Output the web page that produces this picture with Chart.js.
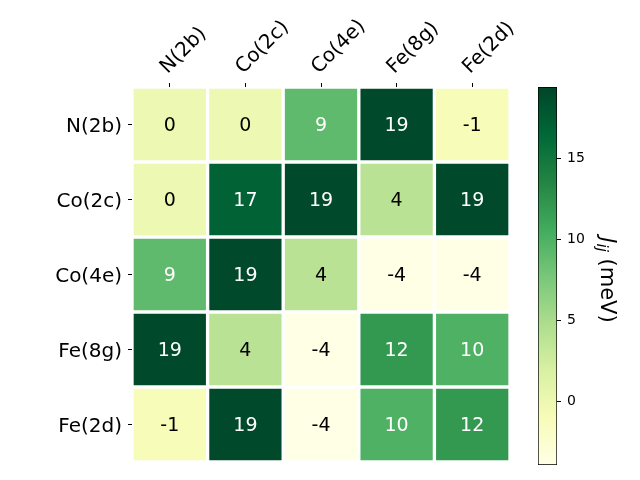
<!DOCTYPE html>
<html>
<head>
<meta charset="utf-8">
<script src="https://cdn.jsdelivr.net/npm/chart.js@4/dist/chart.umd.min.js"></script>
<style>
  html, body { margin: 0; padding: 0; background: #fff; }
  #wrap { position: relative; width: 640px; height: 480px; }
  canvas { position: absolute; left: 0; top: 0; }
</style>
</head>
<body>
<div id="wrap">
  <canvas id="heat" width="640" height="480"></canvas>
  <canvas id="cbar" width="640" height="480"></canvas>
</div>
<script>
// sites on both axes
const siteLabels = ['N(2b)', 'Co(2c)', 'Co(4e)', 'Fe(8g)', 'Fe(2d)'];

// J_ij values (meV), one array per row
const rowN2b  = [0, 0, 9, 19, -1];
const rowCo2c = [0, 17, 19, 4, 19];
const rowCo4e = [9, 19, 4, -4, -4];
const rowFe8g = [19, 4, -4, 12, 10];
const rowFe2d = [-1, 19, -4, 10, 12];
const jRows = [rowN2b, rowCo2c, rowCo4e, rowFe8g, rowFe2d];

// colour bar range and ticks
const vMin = -3.9;
const vMax = 19.4;
const cbarTicks = [0, 5, 10, 15];

// YlGn colormap stops
const ylgn = ['#ffffe5', '#f7fcb9', '#d9f0a3', '#addd8e', '#78c679', '#41ab5d', '#238443', '#006837', '#004529'];

function hexToRgb(h) {
  return [parseInt(h.slice(1, 3), 16), parseInt(h.slice(3, 5), 16), parseInt(h.slice(5, 7), 16)];
}
function cmap(v) {
  let t = (v - vMin) / (vMax - vMin);
  t = Math.max(0, Math.min(1, t));
  const pos = t * (ylgn.length - 1);
  const i = Math.min(Math.floor(pos), ylgn.length - 2);
  const f = pos - i;
  const a = hexToRgb(ylgn[i]), b = hexToRgb(ylgn[i + 1]);
  const c = a.map((x, k) => Math.round(x + (b[k] - x) * f));
  return 'rgb(' + c.join(',') + ')';
}

Chart.defaults.color = '#000';
Chart.defaults.font.family = '"DejaVu Sans", sans-serif';

const FONT = '"DejaVu Sans", sans-serif';

// cell value labels
const cellText = {
  id: 'cellText',
  afterDatasetsDraw(chart) {
    const { ctx } = chart;
    const xs = chart.scales.x, ys = chart.scales.y;
    ctx.save();
    ctx.font = '19px ' + FONT;
    ctx.textAlign = 'center';
    ctx.textBaseline = 'middle';
    jRows.forEach((row, r) => {
      row.forEach((v, c) => {
        ctx.fillStyle = v > (vMin + vMax) / 2 ? '#fff' : '#000';
        ctx.fillText(String(v), xs.getPixelForValue(c), ys.getPixelForValue(r) + 2);
      });
    });
    ctx.restore();
  }
};

new Chart(document.getElementById('heat'), {
  type: 'bar',
  data: {
    labels: siteLabels,
    datasets: jRows.map((row, r) => ({
      data: row.map(() => [r - 0.5, r + 0.5]),
      backgroundColor: row.map(cmap),
      borderColor: '#fff',
      borderWidth: 2,
      borderSkipped: false,
      grouped: false,
      barPercentage: 1,
      categoryPercentage: 1
    }))
  },
  options: {
    responsive: false,
    animation: false,
    events: [],
    layout: { padding: { left: 0, right: 130, top: 0, bottom: 15 } },
    plugins: { legend: { display: false }, tooltip: { enabled: false } },
    scales: {
      x: {
        position: 'top',
        offset: true,
        grid: { offset: false, drawOnChartArea: false, drawTicks: true, tickLength: 4, color: '#000' },
        border: { display: false },
        ticks: { font: { size: 20 }, minRotation: 45, maxRotation: 45, autoSkip: false, padding: 4, labelOffset: 11 },
        afterFit(s) { s.height = 87; }
      },
      y: {
        type: 'linear',
        reverse: true,
        min: -0.5,
        max: 4.5,
        grid: { drawOnChartArea: false, drawTicks: true, tickLength: 4, color: '#000' },
        border: { display: false },
        ticks: { font: { size: 20 }, padding: 6, labelOffset: 2, callback: (v) => siteLabels[v] },
        afterBuildTicks(s) { s.ticks = siteLabels.map((_, i) => ({ value: i })); },
        afterFit(s) { s.width = 132; }
      }
    }
  },
  plugins: [cellText]
});

// colour bar label with subscript
const cbarLabel = {
  id: 'cbarLabel',
  afterDraw(chart) {
    const { ctx, chartArea } = chart;
    ctx.save();
    ctx.translate(chartArea.right + 49, (chartArea.top + chartArea.bottom) / 2 + 4);
    ctx.rotate(Math.PI / 2);
    ctx.fillStyle = '#000';
    ctx.textBaseline = 'middle';
    ctx.textAlign = 'left';
    const big = '21px ' + FONT, bigI = 'italic 21px ' + FONT, small = 'italic 15px ' + FONT;
    ctx.font = bigI; const wJ = ctx.measureText('J').width;
    ctx.font = small; const wij = ctx.measureText('ij').width;
    ctx.font = big; const wr = ctx.measureText(' (meV)').width;
    let x = -(wJ + wij + wr) / 2;
    ctx.font = bigI; ctx.fillText('J', x, 0); x += wJ;
    ctx.font = small; ctx.fillText('ij', x, 5); x += wij;
    ctx.font = big; ctx.fillText(' (meV)', x, 0);
    ctx.restore();
  }
};

new Chart(document.getElementById('cbar'), {
  type: 'bar',
  data: {
    labels: [''],
    datasets: [{
      data: [[vMin, vMax]],
      backgroundColor(c) {
        const area = c.chart.chartArea;
        if (!area) return '#fff';
        const g = c.chart.ctx.createLinearGradient(0, area.bottom, 0, area.top);
        ylgn.forEach((col, i) => g.addColorStop(i / (ylgn.length - 1), col));
        return g;
      },
      borderColor: '#000',
      borderWidth: 1,
      borderSkipped: false,
      barPercentage: 1,
      categoryPercentage: 1
    }]
  },
  options: {
    responsive: false,
    animation: false,
    events: [],
    layout: { padding: { left: 538, right: 0, top: 87, bottom: 15 } },
    plugins: { legend: { display: false }, tooltip: { enabled: false } },
    scales: {
      x: { display: false },
      y: {
        position: 'right',
        min: vMin,
        max: vMax,
        grid: { drawOnChartArea: false, drawTicks: true, tickLength: 4, color: '#000' },
        border: { display: false },
        ticks: { font: { size: 14 }, padding: 6 },
        afterBuildTicks(s) { s.ticks = cbarTicks.map((v) => ({ value: v })); },
        afterFit(s) { s.width = 83; }
      }
    }
  },
  plugins: [cbarLabel]
});
</script>
</body>
</html>
